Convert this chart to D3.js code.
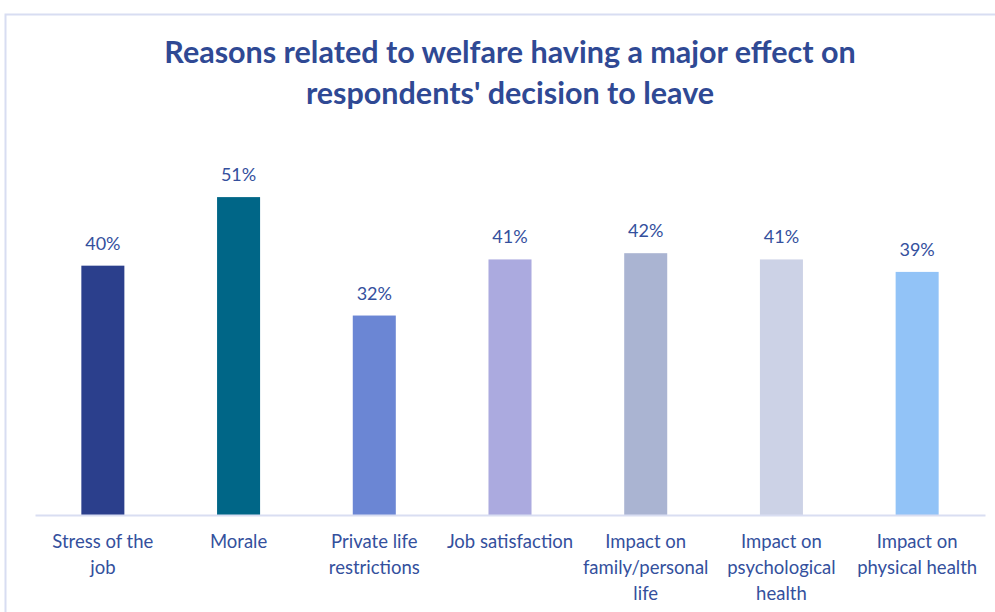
<!DOCTYPE html>
<html>
<head>
<meta charset="utf-8">
<script src="https://cdn.jsdelivr.net/npm/d3@7"></script>
<style>
  html, body { margin: 0; padding: 0; background: #ffffff; }
  svg { display: block; }
</style>
</head>
<body>
<svg id="chart" width="995" height="612"></svg>
<script>
// Survey results: share of respondents for whom each welfare reason had a major effect
const categories = [
  "Stress of the job",
  "Morale",
  "Private life restrictions",
  "Job satisfaction",
  "Impact on family/personal life",
  "Impact on psychological health",
  "Impact on physical health"
];
const categoryLines = [
  ["Stress of the", "job"],
  ["Morale"],
  ["Private life", "restrictions"],
  ["Job satisfaction"],
  ["Impact on", "family/personal", "life"],
  ["Impact on", "psychological", "health"],
  ["Impact on", "physical health"]
];
const values = [40, 51, 32, 41, 42, 41, 39];
const barColors = ["#2B3F8C", "#006687", "#6B86D4", "#ABAADF", "#AAB4D2", "#CCD2E6", "#92C3F7"];
const titleLines = [
  "Reasons related to welfare having a major effect on",
  "respondents' decision to leave"
];

const svg = d3.select("#chart");
const W = 995, H = 612;
const font = "Lato, 'Open Sans', sans-serif";
const textColor = "#2F4994";

// chart frame
svg.append("path")
  .attr("d", `M5.5,${H} V14.5 H${W}`)
  .attr("fill", "none")
  .attr("stroke", "#D8DDF2")
  .attr("stroke-width", 2);

// title
svg.append("text")
  .attr("text-anchor", "middle")
  .attr("font-family", font)
  .attr("font-weight", 700)
  .attr("font-size", 30.5)
  .attr("fill", textColor)
  .selectAll("tspan")
  .data(titleLines)
  .join("tspan")
  .attr("x", 510)
  .attr("y", (d, i) => 63 + i * 41)
  .text(d => d);

const margin = { left: 35, right: 10, top: 141, bottom: 97 };
const x = d3.scaleBand()
  .domain(categories)
  .range([margin.left, W - margin.right])
  .paddingInner(0.683)
  .paddingOuter(0.3415);
const y = d3.scaleLinear()
  .domain([0, 60])
  .range([H - margin.bottom, margin.top]);

const data = categories.map((c, i) => ({ cat: c, value: values[i], color: barColors[i], lines: categoryLines[i] }));

// bars
svg.append("g")
  .selectAll("rect")
  .data(data)
  .join("rect")
  .attr("x", d => x(d.cat))
  .attr("y", d => y(d.value))
  .attr("width", x.bandwidth())
  .attr("height", d => y(0) - y(d.value))
  .attr("fill", d => d.color);

// baseline
const xAxis = svg.append("g")
  .attr("transform", `translate(0,${y(0)})`)
  .call(d3.axisBottom(x).tickSize(0).tickFormat(""));
xAxis.select(".domain").attr("stroke", "#D9DEF2").attr("stroke-width", 2);

// value labels
svg.append("g")
  .selectAll("text")
  .data(data)
  .join("text")
  .attr("x", d => x(d.cat) + x.bandwidth() / 2)
  .attr("y", d => y(d.value) - 16)
  .attr("text-anchor", "middle")
  .attr("font-family", font)
  .attr("font-size", 18)
  .attr("fill", "#34509D")
  .text(d => d.value + "%");

// category labels
svg.append("g")
  .selectAll("text")
  .data(data)
  .join("text")
  .attr("text-anchor", "middle")
  .attr("font-family", font)
  .attr("font-size", 18.5)
  .attr("fill", "#34509D")
  .each(function (d) {
    const cx = x(d.cat) + x.bandwidth() / 2;
    d3.select(this).selectAll("tspan")
      .data(d.lines)
      .join("tspan")
      .attr("x", cx)
      .attr("y", (l, i) => y(0) + 33 + i * 26)
      .text(l => l);
  });
</script>
</body>
</html>
